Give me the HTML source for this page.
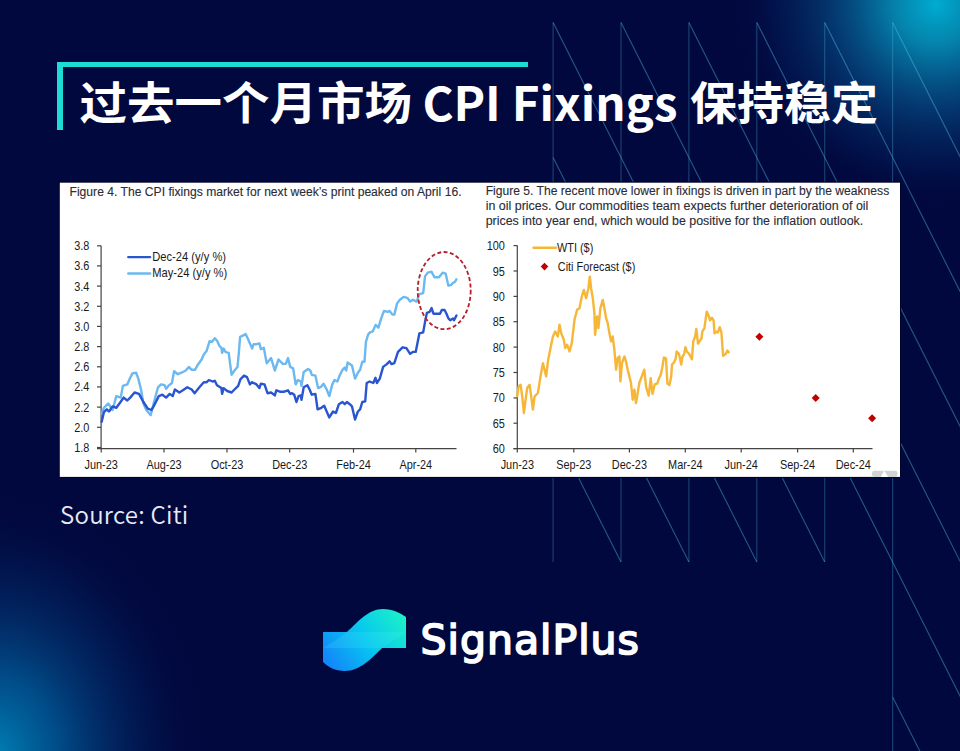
<!DOCTYPE html>
<html><head><meta charset="utf-8">
<style>
html,body{margin:0;padding:0;}
body{width:960px;height:751px;overflow:hidden;background:#01083e;position:relative;}
#bg{position:absolute;left:0;top:0;}
.v{stroke:rgba(80,190,228,0.3);stroke-width:1.2;}
.d{stroke:rgba(90,200,232,0.42);stroke-width:1.1;}
.bar-h{position:absolute;left:57.3px;top:62px;width:470.6px;height:5px;background:#1ddcd5;}
.bar-v{position:absolute;left:57.3px;top:62px;width:5.4px;height:67.7px;background:#1ddcd5;}
.title{position:absolute;left:79px;top:72px;white-space:nowrap;color:#fff;font-family:"Noto Sans CJK SC","Liberation Sans",sans-serif;font-weight:700;font-size:47.5px;line-height:60px;}
.title.cjk{font-family:"Liberation Sans","Noto Sans CJK SC",sans-serif;top:75.9px;transform:scaleY(0.954);transform-origin:0 0;}
.title.lat{top:71.6px;transform:scaleY(0.98);transform-origin:0 0;}
.src{position:absolute;left:60px;top:498.6px;white-space:nowrap;color:#e8eaf4;font-family:"Noto Sans CJK SC","Liberation Sans",sans-serif;font-weight:350;font-size:24px;line-height:30px;letter-spacing:0.25px;}
.brand{position:absolute;left:420.5px;top:615px;white-space:nowrap;color:#fff;font-family:"DejaVu Sans","Liberation Sans",sans-serif;font-weight:400;font-size:41px;line-height:50px;letter-spacing:1.0px;-webkit-text-stroke:1.7px #fff;}
svg text{font-family:"Liberation Sans",Arial,sans-serif;}
.tl{font-size:12.4px;fill:#1a1a1a;}
.cap{font-size:12px;fill:#2c2c36;stroke:#2c2c36;stroke-width:0.12px;}
.ax{stroke:#444;stroke-width:1.2;}
.may{fill:none;stroke-linecap:round;stroke:#6cb8f0;stroke-width:2.4;stroke-linejoin:round;}
.dec{fill:none;stroke-linecap:round;stroke:#2a55d0;stroke-width:2.4;stroke-linejoin:round;}
.wti{fill:none;stroke-linecap:round;stroke:#f6b638;stroke-width:2.4;stroke-linejoin:round;}
.circ{fill:none;stroke:#b5202a;stroke-width:1.8;stroke-dasharray:4 2.4;}
</style></head>
<body>
<svg id="bg" width="960" height="751" viewBox="0 0 960 751">
<defs>
<radialGradient id="g1" cx="936" cy="4" r="205" gradientUnits="userSpaceOnUse">
<stop offset="0" stop-color="#00acd0"/>
<stop offset="0.2" stop-color="#0590b8" stop-opacity="0.9"/>
<stop offset="0.5" stop-color="#065a92" stop-opacity="0.6"/>
<stop offset="0.78" stop-color="#04306e" stop-opacity="0.3"/>
<stop offset="1" stop-color="#01083e" stop-opacity="0"/>
</radialGradient>
<radialGradient id="g2" cx="0" cy="0" r="1" gradientUnits="userSpaceOnUse" gradientTransform="translate(-5 755) scale(215 265)">
<stop offset="0" stop-color="#0080b4"/>
<stop offset="0.3" stop-color="#0062a0" stop-opacity="0.75"/>
<stop offset="0.65" stop-color="#033a7a" stop-opacity="0.35"/>
<stop offset="1" stop-color="#01083e" stop-opacity="0"/>
</radialGradient>
<linearGradient id="lg" x1="326" y1="668" x2="404" y2="612" gradientUnits="userSpaceOnUse">
<stop offset="0" stop-color="#1580fa"/>
<stop offset="0.5" stop-color="#06c6f0"/>
<stop offset="1" stop-color="#1df2c6"/>
</linearGradient>
</defs>
<rect width="960" height="751" fill="#01083e"/>
<rect width="960" height="751" fill="url(#g1)"/>
<rect width="960" height="751" fill="url(#g2)"/>
<line x1="553.1" y1="22.5" x2="553.1" y2="562.1" class="v"/>
<line x1="621.0" y1="22.5" x2="621.0" y2="562.1" class="v"/>
<line x1="688.9" y1="22.5" x2="688.9" y2="562.1" class="v"/>
<line x1="756.8" y1="22.5" x2="756.8" y2="562.1" class="v"/>
<line x1="824.7" y1="22.5" x2="824.7" y2="562.1" class="v"/>
<line x1="892.6" y1="22.5" x2="892.6" y2="760.0" class="v"/>
<line x1="553.1" y1="22.5" x2="621.0" y2="157.4" class="d"/>
<line x1="553.1" y1="157.4" x2="621.0" y2="292.3" class="d"/>
<line x1="553.1" y1="292.3" x2="621.0" y2="427.2" class="d"/>
<line x1="553.1" y1="427.2" x2="621.0" y2="562.1" class="d"/>
<line x1="621.0" y1="22.5" x2="688.9" y2="157.4" class="d"/>
<line x1="621.0" y1="157.4" x2="688.9" y2="292.3" class="d"/>
<line x1="621.0" y1="292.3" x2="688.9" y2="427.2" class="d"/>
<line x1="621.0" y1="427.2" x2="688.9" y2="562.1" class="d"/>
<line x1="688.9" y1="22.5" x2="756.8" y2="157.4" class="d"/>
<line x1="688.9" y1="157.4" x2="756.8" y2="292.3" class="d"/>
<line x1="688.9" y1="292.3" x2="756.8" y2="427.2" class="d"/>
<line x1="688.9" y1="427.2" x2="756.8" y2="562.1" class="d"/>
<line x1="756.8" y1="22.5" x2="824.7" y2="157.4" class="d"/>
<line x1="756.8" y1="157.4" x2="824.7" y2="292.3" class="d"/>
<line x1="756.8" y1="292.3" x2="824.7" y2="427.2" class="d"/>
<line x1="756.8" y1="427.2" x2="824.7" y2="562.1" class="d"/>
<line x1="824.7" y1="22.5" x2="892.6" y2="157.4" class="d"/>
<line x1="824.7" y1="157.4" x2="892.6" y2="292.3" class="d"/>
<line x1="824.7" y1="292.3" x2="892.6" y2="427.2" class="d"/>
<line x1="824.7" y1="427.2" x2="892.6" y2="562.1" class="d"/>
<line x1="892.6" y1="22.5" x2="960.5" y2="157.4" class="d"/>
<line x1="892.6" y1="157.4" x2="960.5" y2="292.3" class="d"/>
<line x1="892.6" y1="292.3" x2="960.5" y2="427.2" class="d"/>
<line x1="892.6" y1="427.2" x2="960.5" y2="562.1" class="d"/>
<line x1="892.6" y1="562.1" x2="960.5" y2="697.0" class="d"/>
<line x1="892.6" y1="697.0" x2="960.5" y2="831.9" class="d"/>
<rect x="58.8" y="181.6" width="842.2" height="296.4" fill="#00042c"/>
<rect x="59.8" y="182.7" width="840.2" height="294.2" fill="#fff"/>
<line x1="101.1" y1="245.75" x2="101.1" y2="448.6" class="ax"/>
<line x1="97" y1="245.8" x2="101.1" y2="245.8" class="ax"/>
<text transform="translate(89.3,250.2) scale(0.88,1)" text-anchor="end" class="tl">3.8</text>
<line x1="97" y1="265.9" x2="101.1" y2="265.9" class="ax"/>
<text transform="translate(89.3,270.4) scale(0.88,1)" text-anchor="end" class="tl">3.6</text>
<line x1="97" y1="286.1" x2="101.1" y2="286.1" class="ax"/>
<text transform="translate(89.3,290.6) scale(0.88,1)" text-anchor="end" class="tl">3.4</text>
<line x1="97" y1="306.3" x2="101.1" y2="306.3" class="ax"/>
<text transform="translate(89.3,310.8) scale(0.88,1)" text-anchor="end" class="tl">3.2</text>
<line x1="97" y1="326.4" x2="101.1" y2="326.4" class="ax"/>
<text transform="translate(89.3,330.9) scale(0.88,1)" text-anchor="end" class="tl">3.0</text>
<line x1="97" y1="346.6" x2="101.1" y2="346.6" class="ax"/>
<text transform="translate(89.3,351.1) scale(0.88,1)" text-anchor="end" class="tl">2.8</text>
<line x1="97" y1="366.8" x2="101.1" y2="366.8" class="ax"/>
<text transform="translate(89.3,371.3) scale(0.88,1)" text-anchor="end" class="tl">2.6</text>
<line x1="97" y1="386.9" x2="101.1" y2="386.9" class="ax"/>
<text transform="translate(89.3,391.4) scale(0.88,1)" text-anchor="end" class="tl">2.4</text>
<line x1="97" y1="407.1" x2="101.1" y2="407.1" class="ax"/>
<text transform="translate(89.3,411.6) scale(0.88,1)" text-anchor="end" class="tl">2.2</text>
<line x1="97" y1="427.3" x2="101.1" y2="427.3" class="ax"/>
<text transform="translate(89.3,431.8) scale(0.88,1)" text-anchor="end" class="tl">2.0</text>
<line x1="97" y1="447.5" x2="101.1" y2="447.5" class="ax"/>
<text transform="translate(89.3,452.0) scale(0.88,1)" text-anchor="end" class="tl">1.8</text>
<line x1="97" y1="448.6" x2="456.5" y2="448.6" class="ax"/>
<line x1="101.2" y1="448.6" x2="101.2" y2="452.6" class="ax"/>
<text transform="translate(101.2,469.4) scale(0.88,1)" text-anchor="middle" class="tl">Jun-23</text>
<line x1="164" y1="448.6" x2="164" y2="452.6" class="ax"/>
<text transform="translate(164.0,469.4) scale(0.88,1)" text-anchor="middle" class="tl">Aug-23</text>
<line x1="227" y1="448.6" x2="227" y2="452.6" class="ax"/>
<text transform="translate(227.0,469.4) scale(0.88,1)" text-anchor="middle" class="tl">Oct-23</text>
<line x1="289.7" y1="448.6" x2="289.7" y2="452.6" class="ax"/>
<text transform="translate(289.7,469.4) scale(0.88,1)" text-anchor="middle" class="tl">Dec-23</text>
<line x1="353.5" y1="448.6" x2="353.5" y2="452.6" class="ax"/>
<text transform="translate(353.5,469.4) scale(0.88,1)" text-anchor="middle" class="tl">Feb-24</text>
<line x1="415.8" y1="448.6" x2="415.8" y2="452.6" class="ax"/>
<text transform="translate(415.8,469.4) scale(0.88,1)" text-anchor="middle" class="tl">Apr-24</text>
<polyline points="101.7,413.7 103.9,407.8 108.2,403.5 112.6,410.0 116.3,396.1 120.7,397.6 122.9,385.9 127.3,384.4 129.5,379.3 132.4,373.4 136.1,372.7 138.3,378.6 141.2,390.3 143.4,403.5 146.3,410.0 150.7,415.2 153.6,403.5 158.0,387.3 161.0,384.4 164.6,385.2 166.1,388.8 168.3,385.9 171.9,383.0 174.1,371.2 177.8,374.2 181.5,372.7 185.8,370.5 188.8,366.9 191.7,369.8 195.0,369.8 197.9,364.7 201.6,359.5 203.8,354.4 206.7,350.7 209.6,341.2 211.8,342.0 214.8,338.3 217.0,340.5 219.2,345.6 221.4,347.8 222.1,352.9 223.6,348.6 225.7,352.2 228.7,352.9 230.1,363.9 231.6,374.9 234.5,370.5 237.5,366.9 238.9,352.2 240.1,336.8 243.3,335.4 245.5,333.9 247.7,338.3 250.6,344.9 252.1,348.6 253.6,344.2 256.5,344.2 259.4,343.4 260.9,349.3 263.8,347.8 266.7,363.2 271.1,358.1 274.8,370.5 278.5,359.5 282.8,363.9 285.8,363.9 288.0,358.1 290.2,366.9 293.1,368.3 295.7,384.4 297.9,380.0 300.8,381.5 301.5,385.9 303.7,372.0 308.1,369.0 310.3,370.5 311.8,374.9 315.4,375.6 318.1,388.1 321.3,386.6 323.5,383.7 326.4,388.8 329.3,396.1 332.3,384.4 334.5,380.0 337.4,381.5 339.6,375.6 342.5,369.8 344.7,367.6 346.2,370.5 347.6,362.5 349.8,363.9 352.0,365.4 355.0,378.6 357.9,372.7 360.1,369.8 362.3,361.7 364.5,361.7 365.9,342.0 368.1,334.6 370.0,332.4 372.8,331.4 375.6,324.9 378.4,327.7 381.2,318.4 384.0,310.9 387.7,311.8 389.6,310.9 392.4,314.6 394.3,314.6 397.1,303.4 399.9,299.7 403.6,296.9 407.3,297.8 410.1,301.6 412.9,299.7 416.6,301.6 419.4,294.1 423.2,293.2 425.0,276.4 427.8,272.6 431.6,271.7 434.4,277.3 439.0,277.3 442.8,272.6 445.6,273.6 448.4,285.7 451.2,284.8 453.0,282.9 454.9,282.0 456.4,279.2" class="may"/>
<polyline points="101.7,421.8 103.9,412.2 106.8,409.3 109.0,411.5 112.6,406.4 116.3,407.8 120.0,402.7 123.6,397.6 127.3,400.5 130.2,397.6 134.6,392.5 139.0,393.9 143.4,402.0 147.8,408.6 151.4,410.0 153.6,406.4 158.8,396.1 162.4,394.7 166.1,397.6 169.7,393.9 172.7,396.1 174.9,389.5 179.3,392.5 182.9,390.3 187.3,387.3 191.7,389.5 194.6,393.2 199.4,387.3 203.8,382.2 206.7,382.2 208.9,380.0 212.6,381.5 214.8,380.8 217.0,385.2 221.4,388.1 222.1,393.9 223.6,388.1 227.2,391.0 231.6,392.5 234.5,389.5 238.2,385.9 240.4,379.3 244.0,375.6 247.0,377.1 249.9,384.4 252.1,382.2 256.5,384.4 259.4,388.1 260.9,383.7 264.5,384.4 267.5,393.2 271.1,392.5 274.8,395.4 276.3,390.3 279.9,391.7 284.3,391.7 288.0,390.3 290.2,393.9 292.0,393.2 294.2,394.7 296.4,402.0 298.6,396.1 300.8,395.4 301.5,399.8 303.7,387.3 307.4,385.2 309.6,389.5 311.8,394.7 315.4,393.9 317.6,409.3 321.3,407.8 324.2,405.7 329.3,417.4 333.0,411.5 335.9,413.0 338.9,404.2 342.5,402.0 344.7,404.2 346.9,402.0 349.8,404.2 352.0,406.4 355.0,419.6 357.9,411.5 360.1,409.3 362.3,402.0 365.2,401.3 366.7,383.0 369.6,381.5 373.3,383.0 375.5,377.8 376.9,383.0 379.8,378.6 383.1,366.9 386.8,364.1 389.6,361.3 391.5,364.1 394.3,363.1 398.0,351.9 402.6,347.3 406.4,348.2 410.1,353.8 412.9,351.9 415.7,351.9 419.4,333.3 423.2,332.4 425.0,322.1 426.9,312.8 429.7,311.8 431.6,308.1 433.4,313.7 436.2,313.7 440.0,313.7 441.8,310.0 444.6,310.0 446.5,313.7 448.4,318.4 450.2,320.2 453.0,318.4 454.0,320.2 456.4,315.6" class="dec"/>
<line x1="128.3" y1="257.1" x2="150.1" y2="257.1" class="dec"/>
<line x1="128.3" y1="273.5" x2="150.1" y2="273.5" class="may"/>
<text transform="translate(152.3,260.9) scale(0.9,1)" text-anchor="start" class="tl">Dec-24 (y/y %)</text>
<text transform="translate(152.3,277.4) scale(0.9,1)" text-anchor="start" class="tl">May-24 (y/y %)</text>
<ellipse cx="444.2" cy="290.6" rx="26.5" ry="38.6" class="circ"/>
<text x="69.5" y="195.6" class="cap" textLength="392" lengthAdjust="spacingAndGlyphs">Figure 4. The CPI fixings market for next week’s print peaked on April 16.</text>
<line x1="517.3" y1="245.6" x2="517.3" y2="448.6" class="ax"/>
<line x1="513.5" y1="245.6" x2="517.3" y2="245.6" class="ax"/>
<text transform="translate(504.8,250.1) scale(0.88,1)" text-anchor="end" class="tl">100</text>
<line x1="513.5" y1="271.0" x2="517.3" y2="271.0" class="ax"/>
<text transform="translate(504.8,275.5) scale(0.88,1)" text-anchor="end" class="tl">95</text>
<line x1="513.5" y1="296.4" x2="517.3" y2="296.4" class="ax"/>
<text transform="translate(504.8,300.9) scale(0.88,1)" text-anchor="end" class="tl">90</text>
<line x1="513.5" y1="321.7" x2="517.3" y2="321.7" class="ax"/>
<text transform="translate(504.8,326.2) scale(0.88,1)" text-anchor="end" class="tl">85</text>
<line x1="513.5" y1="347.1" x2="517.3" y2="347.1" class="ax"/>
<text transform="translate(504.8,351.6) scale(0.88,1)" text-anchor="end" class="tl">80</text>
<line x1="513.5" y1="372.5" x2="517.3" y2="372.5" class="ax"/>
<text transform="translate(504.8,377.0) scale(0.88,1)" text-anchor="end" class="tl">75</text>
<line x1="513.5" y1="397.9" x2="517.3" y2="397.9" class="ax"/>
<text transform="translate(504.8,402.4) scale(0.88,1)" text-anchor="end" class="tl">70</text>
<line x1="513.5" y1="423.2" x2="517.3" y2="423.2" class="ax"/>
<text transform="translate(504.8,427.7) scale(0.88,1)" text-anchor="end" class="tl">65</text>
<line x1="513.5" y1="448.6" x2="517.3" y2="448.6" class="ax"/>
<text transform="translate(504.8,453.1) scale(0.88,1)" text-anchor="end" class="tl">60</text>
<line x1="513.5" y1="448.6" x2="872.5" y2="448.6" class="ax"/>
<line x1="517.3" y1="448.6" x2="517.3" y2="452.6" class="ax"/>
<text transform="translate(517.3,469.4) scale(0.88,1)" text-anchor="middle" class="tl">Jun-23</text>
<line x1="573.8" y1="448.6" x2="573.8" y2="452.6" class="ax"/>
<text transform="translate(573.8,469.4) scale(0.88,1)" text-anchor="middle" class="tl">Sep-23</text>
<line x1="629.4" y1="448.6" x2="629.4" y2="452.6" class="ax"/>
<text transform="translate(629.4,469.4) scale(0.88,1)" text-anchor="middle" class="tl">Dec-23</text>
<line x1="685.3" y1="448.6" x2="685.3" y2="452.6" class="ax"/>
<text transform="translate(685.3,469.4) scale(0.88,1)" text-anchor="middle" class="tl">Mar-24</text>
<line x1="741.2" y1="448.6" x2="741.2" y2="452.6" class="ax"/>
<text transform="translate(741.2,469.4) scale(0.88,1)" text-anchor="middle" class="tl">Jun-24</text>
<line x1="797.6" y1="448.6" x2="797.6" y2="452.6" class="ax"/>
<text transform="translate(797.6,469.4) scale(0.88,1)" text-anchor="middle" class="tl">Sep-24</text>
<line x1="853.3" y1="448.6" x2="853.3" y2="452.6" class="ax"/>
<text transform="translate(853.3,469.4) scale(0.88,1)" text-anchor="middle" class="tl">Dec-24</text>
<polyline points="517.3,396.3 518.6,386.4 520.6,384.7 522.2,396.3 523.9,413.0 525.6,399.7 527.2,388.0 529.6,384.7 531.2,396.3 532.9,409.6 534.6,396.3 537.9,393.0 540.5,376.4 542.9,363.1 544.5,369.7 546.2,376.4 547.9,361.4 550.5,348.1 552.9,336.5 555.2,331.5 557.8,336.5 559.5,324.8 561.2,333.1 563.8,339.8 565.2,348.1 567.2,344.8 569.5,351.4 571.8,343.1 574.5,319.8 577.1,309.8 579.5,308.2 581.8,296.5 583.8,289.9 586.1,298.2 588.4,288.2 589.8,276.6 591.1,288.2 592.8,298.2 594.4,313.2 595.1,334.8 597.1,316.5 598.4,328.1 600.4,308.2 602.8,299.9 604.4,308.2 606.1,318.2 607.7,323.1 609.4,333.1 611.1,341.4 612.7,336.5 614.4,349.8 616.1,369.7 617.7,358.1 619.4,356.4 620.4,381.4 622.0,363.1 624.4,356.4 626.0,361.4 627.7,369.7 629.4,376.4 631.0,383.0 632.7,399.7 634.4,389.7 636.0,403.0 637.7,393.0 639.3,383.0 641.7,376.6 644.3,369.7 646.1,387.0 648.7,395.6 650.7,378.3 652.5,393.9 654.7,384.4 657.3,383.5 659.0,378.3 660.8,374.8 662.5,366.2 663.9,357.5 666.0,358.4 667.4,383.5 669.4,385.2 671.2,376.6 672.0,364.5 673.8,362.7 675.5,359.3 676.7,351.5 679.0,354.1 681.2,364.5 682.4,356.7 684.2,354.1 685.4,347.1 686.8,351.5 688.5,353.2 690.2,355.8 691.9,359.3 693.3,341.1 695.1,336.8 696.3,329.0 698.0,343.7 699.7,341.1 701.5,338.5 702.3,331.6 704.4,328.1 706.7,311.6 708.4,315.1 710.1,320.3 711.9,317.7 713.6,320.3 714.5,333.3 716.2,331.6 717.9,332.4 719.7,327.2 721.4,332.4 723.1,355.8 725.7,354.1 727.4,350.6 728.7,352.3" class="wti"/>
<path d="M759.4 332.7L763.4 336.7L759.4 340.7L755.4 336.7Z" fill="#c00000"/>
<path d="M815.7 393.9L819.7 397.9L815.7 401.9L811.7 397.9Z" fill="#c00000"/>
<path d="M872.1 414.2L876.1 418.2L872.1 422.2L868.1 418.2Z" fill="#c00000"/>
<line x1="533.5" y1="247.8" x2="556" y2="247.8" class="wti"/>
<path d="M544.5 262.8L548.3 266.6L544.5 270.4L540.7 266.6Z" fill="#c00000"/>
<text transform="translate(557.0,251.6) scale(0.88,1)" text-anchor="start" class="tl">WTI ($)</text>
<text transform="translate(557.8,271.0) scale(0.88,1)" text-anchor="start" class="tl">Citi Forecast ($)</text>
<text x="485.7" y="195.4" class="cap" textLength="403.5" lengthAdjust="spacingAndGlyphs">Figure 5. The recent move lower in fixings is driven in part by the weakness</text>
<text x="485.7" y="210.0" class="cap" textLength="382.7" lengthAdjust="spacingAndGlyphs">in oil prices. Our commodities team expects further deterioration of oil</text>
<text x="485.7" y="224.6" class="cap" textLength="377.5" lengthAdjust="spacingAndGlyphs">prices into year end, which would be positive for the inflation outlook.</text>
<rect x="872" y="470.8" width="25.5" height="6.1" rx="2.4" fill="#d2d2d2"/><path d="M880.8 476.9 L884.2 470.6 L888.2 476.9 Z" fill="#fff"/>
<path d="M323 632 L347 632 C358 622 368 609 383 609 C393 609 400 613 406 617 L406 648 L382 648 C372 658 360 671 345 671 C335 671 328 667 323 662 Z" fill="url(#lg)"/>
<path d="M323 648 C331 643 340 638 347 632 L406 632 C398 638 389 643 382 648 Z" fill="#5cf0ff" opacity="0.16"/>
</svg>
<div class="bar-h"></div><div class="bar-v"></div>
<div class="title cjk" style="left:79.6px">过去一个月市场</div><div class="title lat" style="left:422.6px;letter-spacing:-0.2px">CPI</div><div class="title lat" style="left:511.8px">Fixings</div><div class="title cjk" style="left:689.6px;transform:scale(0.989,0.954)">保持稳定</div>
<div class="src">Source: Citi</div>
<div class="brand">SignalPlus</div>
</body></html>
